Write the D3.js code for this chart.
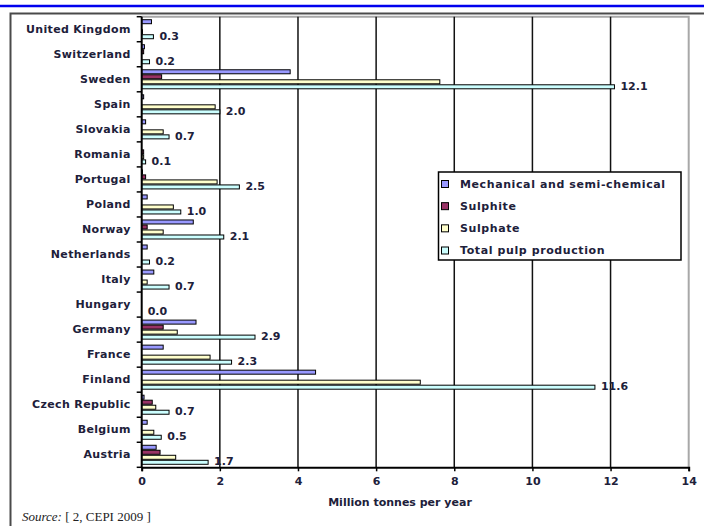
<!DOCTYPE html>
<html>
<head>
<meta charset="utf-8">
<script src="https://cdn.jsdelivr.net/npm/d3@7"></script>
<style>
  html, body { margin: 0; padding: 0; background: #fff; }
  svg { display: block; }
  .lbl { font-family: "DejaVu Sans", Verdana, sans-serif; font-weight: bold; fill: #20203a; }
</style>
</head>
<body>
<svg id="chart" width="704" height="526"></svg>
<script>
// Pulp production by country, million tonnes per year
const categories = ["Austria", "Belgium", "Czech Republic", "Finland", "France", "Germany",
  "Hungary", "Italy", "Netherlands", "Norway", "Poland", "Portugal", "Romania", "Slovakia",
  "Spain", "Sweden", "Switzerland", "United Kingdom"];
const seriesNames = ["Mechanical and semi-chemical", "Sulphite", "Sulphate", "Total pulp production"];
const mechanical = [0.37, 0.14, 0.06, 4.45, 0.55, 1.39, 0, 0.31, 0.14, 1.32, 0.14, 0.02, 0, 0.1, 0.05, 3.8, 0.07, 0.25];
const sulphite   = [0.47, 0, 0.27, 0, 0, 0.55, 0, 0, 0, 0.14, 0, 0.1, 0.05, 0, 0, 0.51, 0.05, 0];
const sulphate   = [0.87, 0.31, 0.36, 7.13, 1.75, 0.91, 0, 0.14, 0, 0.55, 0.81, 1.93, 0.05, 0.55, 1.88, 7.63, 0, 0.02];
const total      = [1.7, 0.5, 0.7, 11.6, 2.3, 2.9, 0.0, 0.7, 0.2, 2.1, 1.0, 2.5, 0.1, 0.7, 2.0, 12.1, 0.2, 0.3];
const xTicks = [0, 2, 4, 6, 8, 10, 12, 14];
const axisTitle = "Million tonnes per year";

const colors = ["#9999ff", "#993366", "#ffffcc", "#ccffff"];
const seriesValues = [mechanical, sulphite, sulphate, total];

const svg = d3.select("#chart");

// page decorations: header rule and frame
svg.append("line").attr("x1", 0).attr("x2", 704).attr("y1", 6).attr("y2", 6)
  .attr("stroke", "#0000ee").attr("stroke-width", 2.5);
svg.append("path").attr("d", "M10.5,526V13.5H704")
  .attr("fill", "none").attr("stroke", "#4a4a4a").attr("stroke-width", 2);

const plotLeft = 141.7, plotRight = 688.7, plotTop = 16.7, plotBottom = 467.3;

const x = d3.scaleLinear().domain([0, 14]).range([plotLeft, plotRight]);
// top-to-bottom order is the reverse of the category list
const y = d3.scaleBand().domain(categories.slice().reverse()).range([plotTop, plotBottom]).paddingInner(0).paddingOuter(0);
const y1 = d3.scaleBand().domain(d3.range(4)).range([0, y.bandwidth()]).paddingInner(0).paddingOuter(0.5);

// plot frame (right/top in grey)
svg.append("path").attr("d", `M${plotLeft},${plotTop}H${plotRight}V${plotBottom}`)
  .attr("fill", "none").attr("stroke", "#a8a8a8").attr("stroke-width", 2);

// vertical gridlines
svg.append("g").selectAll("line").data(xTicks.filter(t => t > 0 && t < 14)).join("line")
  .attr("x1", d => x(d)).attr("x2", d => x(d)).attr("y1", plotTop).attr("y2", plotBottom)
  .attr("stroke", "#111").attr("stroke-width", 1.5);

// bars
const rows = categories.map((c, i) => ({ c, vals: seriesValues.map(s => s[i]) }));
const groups = svg.append("g").selectAll("g").data(rows).join("g")
  .attr("transform", d => `translate(0,${y(d.c)})`);
groups.selectAll("rect")
  .data(d => d.vals.map((v, k) => ({ v, k })).filter(e => e.v > 0))
  .join("rect")
  .attr("x", x(0))
  .attr("y", e => y1(e.k) + 0.5)
  .attr("width", e => x(e.v) - x(0))
  .attr("height", y1.bandwidth() - 1)
  .attr("fill", e => colors[e.k])
  .attr("stroke", "#000").attr("stroke-width", 1);

// total value labels
groups.append("text").attr("class", "lbl")
  .attr("x", d => x(d.vals[3]) + 6)
  .attr("y", y1(3) + y1.bandwidth() / 2 - 1)
  .attr("dy", "0.36em")
  .attr("font-size", 11)
  .text(d => d3.format(".1f")(d.vals[3]));

// category axis
const yAxis = d3.axisLeft(y).tickSize(0).tickPadding(11);
const gy = svg.append("g").attr("transform", `translate(${plotLeft},0)`).call(yAxis);
gy.select(".domain").remove();
gy.selectAll("text").attr("class", "lbl").attr("font-size", 11).attr("letter-spacing", 0.35);
// tick marks at the band boundaries
const bounds = categories.slice().reverse().map(c => y(c)).concat([plotBottom]);
svg.append("g").selectAll("line").data(bounds).join("line")
  .attr("x1", plotLeft - 5).attr("x2", plotLeft).attr("y1", d => d).attr("y2", d => d)
  .attr("stroke", "#000").attr("stroke-width", 1.5);
svg.append("line").attr("x1", plotLeft).attr("x2", plotLeft).attr("y1", plotTop).attr("y2", plotBottom)
  .attr("stroke", "#000").attr("stroke-width", 2);

// value axis
const xAxis = d3.axisBottom(x).tickValues(xTicks).tickSize(4).tickPadding(6).tickFormat(d3.format("d"));
const gx = svg.append("g").attr("transform", `translate(0,${plotBottom})`).call(xAxis);
gx.select(".domain").attr("stroke", "#000").attr("stroke-width", 2);
gx.selectAll(".tick line").attr("stroke", "#000").attr("stroke-width", 1.5);
gx.selectAll("text").attr("class", "lbl").attr("font-size", 11);

svg.append("text").attr("class", "lbl")
  .attr("x", 400).attr("y", 506).attr("text-anchor", "middle").attr("font-size", 11)
  .text(axisTitle);

// legend
const lg = svg.append("g");
lg.append("rect").attr("x", 438.5).attr("y", 172).attr("width", 242.5).attr("height", 88)
  .attr("fill", "#fff").attr("stroke", "#000").attr("stroke-width", 1.5);
const legendY = d3.scalePoint().domain(d3.range(4)).range([184, 250.5]);
const items = lg.selectAll("g").data(seriesNames).join("g")
  .attr("transform", (d, i) => `translate(0,${legendY(i)})`);
items.append("rect").attr("x", 441.5).attr("y", -3.5).attr("width", 7).attr("height", 7)
  .attr("fill", (d, i) => colors[i]).attr("stroke", "#000").attr("stroke-width", 1);
items.append("text").attr("class", "lbl").attr("x", 460).attr("dy", "0.36em")
  .attr("font-size", 11).attr("letter-spacing", 0.6).text(d => d);

// source note
const src = svg.append("text").attr("x", 22).attr("y", 521)
  .attr("font-family", "'Liberation Serif', 'Times New Roman', serif").attr("font-size", 13).attr("fill", "#222");
src.append("tspan").attr("font-style", "italic").text("Source:");
src.append("tspan").text(" [ 2, CEPI 2009 ]");
</script>
</body>
</html>
